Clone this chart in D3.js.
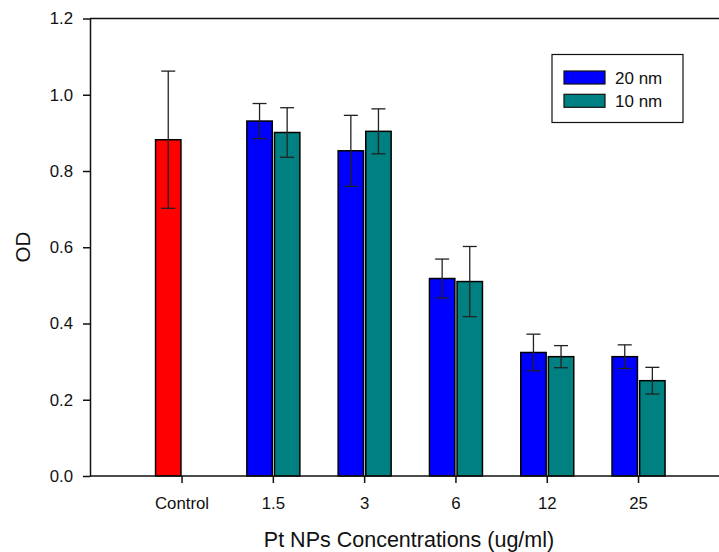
<!DOCTYPE html>
<html>
<head>
<meta charset="utf-8">
<script src="https://cdn.jsdelivr.net/npm/d3@7"></script>
<style>
  body { margin: 0; background: #fff; }
  svg { display: block; font-family: "Liberation Sans", Arial, sans-serif; }
</style>
</head>
<body>
<svg id="chart" width="719" height="552"></svg>
<script>
// Daten
var categories = ["Control", "1.5", "3", "6", "12", "25"];
var seriesNames = ["20 nm", "10 nm"];
var od20 = [0.882, 0.931, 0.853, 0.518, 0.324, 0.313];
var err20 = [0.180, 0.046, 0.093, 0.051, 0.048, 0.031];
var od10 = [null, 0.901, 0.904, 0.510, 0.313, 0.250];
var err10 = [null, 0.065, 0.059, 0.092, 0.029, 0.035];
var yTicks = [0, 0.2, 0.4, 0.6, 0.8, 1.0, 1.2];

var colors = {"20 nm": "#0000ff", "10 nm": "#008080", control: "#ff0000"};

var margin = {top: 18.5, left: 90, bottom: 76};
var height = 552 - margin.top - margin.bottom;

var svg = d3.select("#chart");

var x = d3.scaleBand()
    .domain(categories)
    .range([136.4, 684.2])
    .padding(0);

var xSub = d3.scaleBand()
    .domain(seriesNames)
    .range([-26.5, 26.5])
    .paddingInner(0.08);

var y = d3.scaleLinear()
    .domain([0, 1.2])
    .range([margin.top + height, margin.top]);

// Balken-Datensatz bauen
var bars = [];
categories.forEach(function(c, i) {
    if (od20[i] != null) bars.push({cat: c, s: "20 nm", v: od20[i], e: err20[i], control: i === 0});
    if (od10[i] != null) bars.push({cat: c, s: "10 nm", v: od10[i], e: err10[i], control: false});
});

function cx(d) { return x(d.cat) + x.bandwidth() / 2 + xSub(d.s); }

svg.append("g")
  .selectAll("rect")
  .data(bars)
  .enter()
  .append("rect")
    .attr("x", cx)
    .attr("y", d => y(d.v))
    .attr("width", xSub.bandwidth())
    .attr("height", d => y(0) - y(d.v))
    .style("fill", d => d.control ? colors.control : colors[d.s])
    .style("stroke", "black")
    .style("stroke-width", "1.5px");

// Fehlerbalken
var err = svg.append("g")
  .selectAll("g")
  .data(bars)
  .enter()
  .append("g")
    .attr("transform", d => "translate(" + (cx(d) + xSub.bandwidth() / 2) + ",0)")
    .style("stroke", "#222")
    .style("stroke-width", "1.3px");

err.append("line")
    .attr("y1", d => y(d.v + d.e))
    .attr("y2", d => y(d.v - d.e));
err.append("line")
    .attr("x1", -7).attr("x2", 7)
    .attr("y1", d => y(d.v + d.e))
    .attr("y2", d => y(d.v + d.e));
err.append("line")
    .attr("x1", -7).attr("x2", 7)
    .attr("y1", d => y(d.v - d.e))
    .attr("y2", d => y(d.v - d.e));

// Achsen
var yAxis = svg.append("g")
    .attr("transform", "translate(" + margin.left + ",0)")
    .call(d3.axisLeft(y).tickValues(yTicks).tickFormat(d3.format(".1f")).tickSize(7).tickPadding(10).tickSizeOuter(0));

var xAxis = svg.append("g")
    .attr("transform", "translate(0," + y(0) + ")")
    .call(d3.axisBottom(x).tickSize(7).tickPadding(14).tickSizeOuter(0));

[yAxis, xAxis].forEach(function(a) {
    a.selectAll("text").style("font-size", "16.8px").style("fill", "#111");
    a.selectAll("line").style("stroke", "#111").style("stroke-width", "1.5px");
    a.select(".domain").style("stroke", "#111").style("stroke-width", "1.5px");
});
xAxis.select(".domain").attr("d", "M" + margin.left + ",0H740");

// obere Rahmenlinie
svg.append("line")
    .attr("x1", margin.left).attr("x2", 740)
    .attr("y1", margin.top).attr("y2", margin.top)
    .style("stroke", "#111").style("stroke-width", "1.5px");

// Achsentitel
svg.append("text")
    .attr("transform", "translate(30,247) rotate(-90)")
    .attr("text-anchor", "middle")
    .style("font-size", "20.5px")
    .style("fill", "#111")
    .text("OD");

svg.append("text")
    .attr("x", 409)
    .attr("y", 547)
    .attr("text-anchor", "middle")
    .style("font-size", "21.5px")
    .style("fill", "#111")
    .text("Pt NPs Concentrations (ug/ml)");

// Legende
var legend = svg.append("g").attr("transform", "translate(552,54.5)");
legend.append("rect")
    .attr("width", 131).attr("height", 68)
    .style("fill", "white").style("stroke", "#111").style("stroke-width", "1.2px");

var item = legend.selectAll("g.legend")
    .data(seriesNames)
    .enter()
    .append("g")
    .attr("class", "legend")
    .attr("transform", (d, i) => "translate(12," + (16.5 + i * 23.3) + ")");

item.append("rect")
    .attr("width", 41).attr("height", 13)
    .style("fill", d => colors[d])
    .style("stroke", "#111").style("stroke-width", "1.2px");

item.append("text")
    .attr("x", 51).attr("y", 12.5)
    .style("font-size", "17px")
    .style("fill", "#111")
    .text(d => d);
</script>
</body>
</html>
